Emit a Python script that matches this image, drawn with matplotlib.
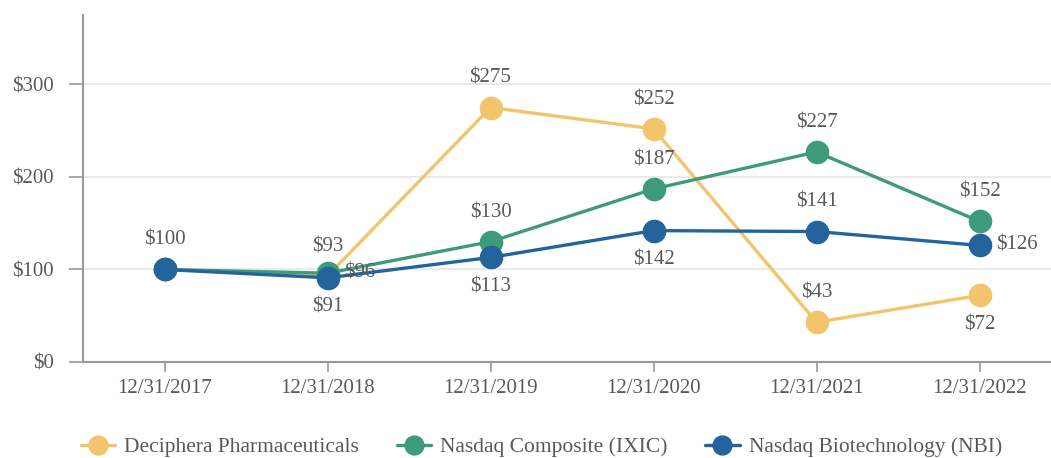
import matplotlib
matplotlib.use("Agg")
import matplotlib.pyplot as plt

# data
dates = ["12/31/2017", "12/31/2018", "12/31/2019", "12/31/2020", "12/31/2021", "12/31/2022"]
deciphera = [100, 93, 275, 252, 43, 72]
ixic = [100, 96, 130, 187, 227, 152]
nbi = [100, 91, 113, 142, 141, 126]

series = [
    ("Deciphera Pharmaceuticals", deciphera, "#F2C46B",
     ["above", "above", "above", "above", "above", "below"]),
    ("Nasdaq Composite (IXIC)", ixic, "#3E9B7A",
     [None, "right", "above", "above", "above", "above"]),
    ("Nasdaq Biotechnology (NBI)", nbi, "#24649C",
     [None, "below", "below", "below", "above", "right"]),
]

plt.rcParams["font.family"] = ["Liberation Serif", "DejaVu Serif"]
text_color = "#595959"
fs = 15

fig = plt.figure(figsize=(10.51, 4.58), dpi=100)
ax = fig.add_axes([83 / 1051, 96 / 458, 978 / 1051, 347 / 458])

x = list(range(len(dates)))
offsets = {"above": (0, 21, "center", "center"),
           "below": (0, -21, "center", "center"),
           "right": (12, 0, "left", "center")}

for name, vals, color, pos in series:
    ax.plot(x, vals, color=color, lw=2.4, marker="o", ms=16, label=name,
            solid_capstyle="round")
    for xi, v, p in zip(x, vals, pos):
        if p is None:
            continue
        dx, dy, ha, va = offsets[p]
        ax.annotate(f"${v}", (xi, v), xytext=(dx, dy), textcoords="offset points",
                    ha=ha, va=va, fontsize=fs, color=text_color)

ax.set_xlim(-0.5, 5.5)
ax.set_ylim(0, 375)
ax.set_yticks([0, 100, 200, 300])
ax.set_yticklabels([f"${t}" for t in [0, 100, 200, 300]])
ax.set_xticks(x)
ax.set_xticklabels(dates)
ax.tick_params(axis="both", colors="#999999", labelcolor=text_color, labelsize=fs, width=1.2)
ax.tick_params(axis="y", length=10, pad=11)
ax.tick_params(axis="x", length=7, pad=5)

for yv in [100, 200, 300]:
    ax.axhline(yv, color="#e6e6e6", lw=1.2, zorder=0)

for s in ["top", "right"]:
    ax.spines[s].set_visible(False)
for s in ["left", "bottom"]:
    ax.spines[s].set_color("#999999")
    ax.spines[s].set_linewidth(1.5)

fig.legend(loc="center", bbox_to_anchor=(0.515, 11 / 458), ncol=3, frameon=False,
           fontsize=15.5, labelcolor=text_color, handlelength=1.6, columnspacing=1.75,
           handletextpad=0.42, markerscale=0.85, borderpad=0)

fig.savefig("out.png", dpi=100)
